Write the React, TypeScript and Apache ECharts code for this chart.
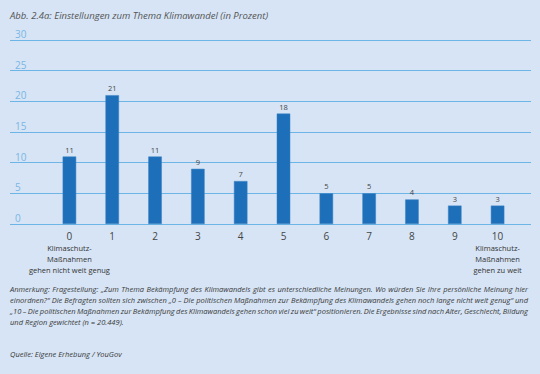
import React, { useEffect, useRef } from "react";
import * as echarts from "echarts";

const categories = ["0", "1", "2", "3", "4", "5", "6", "7", "8", "9", "10"];
const values = [11, 21, 11, 9, 7, 18, 5, 5, 4, 3, 3];
const yTicks = [0, 5, 10, 15, 20, 25, 30];
const leftNote = ["Klimaschutz-", "Maßnahmen", "gehen nicht weit genug"];
const rightNote = ["Klimaschutz-", "Maßnahmen", "gehen zu weit"];
const title = "Abb. 2.4a: Einstellungen zum Thema Klimawandel (in Prozent)";
const noteLines = [
  "Anmerkung: Fragestellung: „Zum Thema Bekämpfung des Klimawandels gibt es unterschiedliche Meinungen. Wo würden Sie Ihre persönliche Meinung hier",
  "einordnen?“ Die Befragten sollten sich zwischen „0 – Die politischen Maßnahmen zur Bekämpfung des Klimawandels gehen noch lange nicht weit genug“ und",
  "„10 – Die politischen Maßnahmen zur Bekämpfung des Klimawandels gehen schon viel zu weit“ positionieren. Die Ergebnisse sind nach Alter, Geschlecht, Bildung",
  "und Region gewichtet (n = 20.449).",
];
const source = "Quelle: Eigene Erhebung / YouGov";

const BG = "#d6e4f5";
const GRID_COLOR = "#6cb5e6";
const BAR_COLOR = "#1d6fb9";
const FONT = "Open Sans";
const NOTE_SIZE = 7.5;

function measure(text: string, size: number): number {
  const span = document.createElement("span");
  span.style.fontFamily = "'" + FONT + "'";
  span.style.fontStyle = "italic";
  span.style.fontSize = size + "px";
  span.style.whiteSpace = "pre";
  span.style.position = "absolute";
  span.style.visibility = "hidden";
  span.textContent = text;
  document.body.appendChild(span);
  const w = span.getBoundingClientRect().width;
  document.body.removeChild(span);
  return w;
}

function noteStyle(text: string) {
  return {
    text,
    fontSize: NOTE_SIZE,
    fontStyle: "italic",
    fontFamily: FONT,
    fill: "#3a3a3a",
    verticalAlign: "middle",
    align: "left",
  };
}

function justifiedLine(text: string, x0: number, x1: number, y: number, justify: boolean) {
  if (!justify) return [{ type: "text", x: x0, y, style: noteStyle(text) }];
  const words = text.split(" ");
  const widths = words.map((w) => measure(w, NOTE_SIZE));
  const total = widths.reduce((a, b) => a + b, 0);
  const gap = (x1 - x0 - total) / (words.length - 1);
  let x = x0;
  return words.map((w, i) => {
    const el = { type: "text", x, y, style: noteStyle(w) };
    x += widths[i] + gap;
    return el;
  });
}

export default function App() {
  const ref = useRef<HTMLDivElement>(null);
  useEffect(() => {
    if (!ref.current) return;
    const chart = echarts.init(ref.current, null, { renderer: "svg" });
    const noteY = [289, 300, 311, 322];
    const noteGraphics: any[] = [];
    noteLines.forEach((t, i) => {
      noteGraphics.push(...justifiedLine(t, 10, 528, noteY[i], i < noteLines.length - 1));
    });
    chart.setOption({
      animation: false,
      backgroundColor: BG,
      textStyle: { fontFamily: FONT },
      grid: [
        { left: 10, right: 9, top: 40, bottom: 150, containLabel: false },
        { left: 48, right: 21, top: 40, bottom: 150, containLabel: false },
      ],
      xAxis: [
        { gridIndex: 0, type: "value", min: 0, max: 1, show: false },
        {
          gridIndex: 1,
          type: "category",
          data: categories,
          axisLine: { show: false },
          axisTick: { show: false },
          axisLabel: {
            interval: 0,
            margin: 5,
            color: "#444",
            fontFamily: FONT,
            formatter: (v: string) => {
              let s = "{n|" + v + "}";
              if (v === categories[0]) s += "\n" + leftNote.map((t) => "{s|" + t + "}").join("\n");
              if (v === categories[categories.length - 1])
                s += "\n" + rightNote.map((t) => "{s|" + t + "}").join("\n");
              return s;
            },
            rich: {
              n: { fontSize: 10, lineHeight: 13, color: "#444", fontFamily: FONT },
              s: { fontSize: 7.5, lineHeight: 11, color: "#333", fontFamily: FONT },
            },
          },
        },
      ],
      yAxis: [
        {
          gridIndex: 0,
          type: "value",
          min: yTicks[0],
          max: yTicks[yTicks.length - 1],
          interval: 5,
          axisLine: { show: false },
          axisTick: { show: false },
          splitLine: { show: true, lineStyle: { color: GRID_COLOR, width: 1 } },
          axisLabel: {
            inside: true,
            margin: 5,
            verticalAlign: "bottom",
            padding: [0, 0, 1, 0],
            color: "#7ab6e4",
            fontSize: 10,
            fontFamily: FONT,
          },
        },
        {
          gridIndex: 1,
          type: "value",
          min: yTicks[0],
          max: yTicks[yTicks.length - 1],
          interval: 5,
          show: false,
        },
      ],
      series: [
        {
          type: "bar",
          xAxisIndex: 1,
          yAxisIndex: 1,
          data: values,
          barWidth: 13.5,
          itemStyle: { color: BAR_COLOR, borderColor: "#3a82c4", borderWidth: 0.5 },
          label: {
            show: true,
            position: "top",
            distance: 3,
            color: "#444",
            fontSize: 7.5,
            fontFamily: FONT,
          },
        },
      ],
      graphic: [
        {
          type: "text",
          x: 10,
          y: 15,
          style: {
            text: title,
            fontSize: 9.5,
            fontStyle: "italic",
            fontFamily: FONT,
            fill: "#555",
            verticalAlign: "middle",
          },
        },
        ...noteGraphics,
        { type: "text", x: 10, y: 354, style: noteStyle(source) },
      ],
    });
    return () => chart.dispose();
  }, []);
  return <div ref={ref} style={{ width: 540, height: 374, position: "absolute", left: 0, top: 0 }} />;
}
